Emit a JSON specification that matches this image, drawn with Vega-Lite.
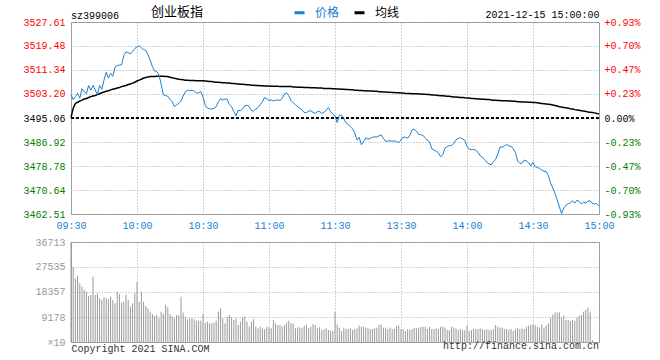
{
"$schema":"https://vega.github.io/schema/vega-lite/v6.json",
"background":"white",
"padding":{"left":22,"top":6,"right":5,"bottom":2},
"config":{
"view":{"stroke":"#999999","strokeWidth":1},
"axis":{"labelFont":"Liberation Mono","labelFontSize":10,"titleFont":"Liberation Mono","titleFontSize":10,"titleFontWeight":"normal","ticks":false,"domain":false,"gridColor":"#a8a8a8","gridDash":[1,2],"gridOpacity":1,"labelAngle":0}
},
"data":{"values":[
{"t":"09:30","p":3503.0,"a":3495.2,"v":36713},
{"t":"09:31","p":3501.3,"a":3498.4,"v":27420},
{"t":"09:32","p":3502.3,"a":3500.0,"v":23380},
{"t":"09:33","p":3503.4,"a":3500.4,"v":24240},
{"t":"09:34","p":3501.8,"a":3500.8,"v":21540},
{"t":"09:35","p":3505.0,"a":3501.1,"v":20320},
{"t":"09:36","p":3504.0,"a":3501.5,"v":19090},
{"t":"09:37","p":3503.3,"a":3501.7,"v":18480},
{"t":"09:38","p":3506.1,"a":3502.0,"v":16890},
{"t":"09:39","p":3504.5,"a":3502.3,"v":17260},
{"t":"09:40","p":3506.1,"a":3502.5,"v":23990},
{"t":"09:41","p":3504.6,"a":3502.7,"v":17260},
{"t":"09:42","p":3503.0,"a":3503.0,"v":17870},
{"t":"09:43","p":3506.1,"a":3503.3,"v":16030},
{"t":"09:44","p":3504.8,"a":3503.6,"v":15420},
{"t":"09:45","p":3507.9,"a":3503.9,"v":16400},
{"t":"09:46","p":3510.6,"a":3504.1,"v":16030},
{"t":"09:47","p":3508.6,"a":3504.3,"v":15670},
{"t":"09:48","p":3510.2,"a":3504.6,"v":16650},
{"t":"09:49","p":3509.2,"a":3504.8,"v":15420},
{"t":"09:50","p":3512.3,"a":3505.0,"v":14200},
{"t":"09:51","p":3512.8,"a":3505.2,"v":18480},
{"t":"09:52","p":3513.0,"a":3505.4,"v":17630},
{"t":"09:53","p":3513.1,"a":3505.7,"v":14440},
{"t":"09:54","p":3516.2,"a":3505.9,"v":14810},
{"t":"09:55","p":3517.5,"a":3506.1,"v":17260},
{"t":"09:56","p":3517.2,"a":3506.4,"v":15420},
{"t":"09:57","p":3516.8,"a":3506.6,"v":12970},
{"t":"09:58","p":3517.6,"a":3506.9,"v":14200},
{"t":"09:59","p":3518.6,"a":3507.2,"v":17870},
{"t":"10:00","p":3519.2,"a":3507.6,"v":22150},
{"t":"10:01","p":3519.5,"a":3507.9,"v":14810},
{"t":"10:02","p":3518.8,"a":3508.2,"v":18480},
{"t":"10:03","p":3518.3,"a":3508.6,"v":14810},
{"t":"10:04","p":3518.0,"a":3508.8,"v":13220},
{"t":"10:05","p":3516.4,"a":3509.0,"v":12360},
{"t":"10:06","p":3514.7,"a":3509.1,"v":11140},
{"t":"10:07","p":3512.5,"a":3509.1,"v":10280},
{"t":"10:08","p":3511.0,"a":3509.1,"v":9550},
{"t":"10:09","p":3510.8,"a":3509.2,"v":9910},
{"t":"10:10","p":3509.6,"a":3509.2,"v":8690},
{"t":"10:11","p":3506.5,"a":3509.2,"v":11140},
{"t":"10:12","p":3502.9,"a":3509.2,"v":10280},
{"t":"10:13","p":3502.7,"a":3509.1,"v":13590},
{"t":"10:14","p":3502.4,"a":3509.1,"v":12730},
{"t":"10:15","p":3501.4,"a":3508.9,"v":10280},
{"t":"10:16","p":3500.6,"a":3508.7,"v":9300},
{"t":"10:17","p":3499.0,"a":3508.5,"v":8690},
{"t":"10:18","p":3499.4,"a":3508.4,"v":9910},
{"t":"10:19","p":3500.0,"a":3508.2,"v":9910},
{"t":"10:20","p":3500.8,"a":3508.1,"v":16650},
{"t":"10:21","p":3502.5,"a":3508.0,"v":10770},
{"t":"10:22","p":3504.0,"a":3507.9,"v":9300},
{"t":"10:23","p":3504.5,"a":3507.9,"v":8320},
{"t":"10:24","p":3504.4,"a":3507.8,"v":8690},
{"t":"10:25","p":3504.5,"a":3507.8,"v":8690},
{"t":"10:26","p":3504.2,"a":3507.8,"v":8320},
{"t":"10:27","p":3503.5,"a":3507.7,"v":7830},
{"t":"10:28","p":3503.6,"a":3507.7,"v":7830},
{"t":"10:29","p":3504.0,"a":3507.7,"v":7830},
{"t":"10:30","p":3502.2,"a":3507.7,"v":10280},
{"t":"10:31","p":3499.5,"a":3507.6,"v":7100},
{"t":"10:32","p":3498.4,"a":3507.5,"v":7470},
{"t":"10:33","p":3498.2,"a":3507.4,"v":6850},
{"t":"10:34","p":3498.1,"a":3507.4,"v":6850},
{"t":"10:35","p":3498.3,"a":3507.3,"v":7100},
{"t":"10:36","p":3498.9,"a":3507.2,"v":7830},
{"t":"10:37","p":3500.6,"a":3507.2,"v":11140},
{"t":"10:38","p":3501.6,"a":3507.1,"v":12360},
{"t":"10:39","p":3501.2,"a":3507.0,"v":8690},
{"t":"10:40","p":3501.5,"a":3507.0,"v":6850},
{"t":"10:41","p":3501.4,"a":3506.9,"v":9060},
{"t":"10:42","p":3499.6,"a":3506.9,"v":9910},
{"t":"10:43","p":3498.9,"a":3506.8,"v":9060},
{"t":"10:44","p":3497.3,"a":3506.8,"v":8080},
{"t":"10:45","p":3495.8,"a":3506.7,"v":8690},
{"t":"10:46","p":3497.7,"a":3506.6,"v":6240},
{"t":"10:47","p":3497.5,"a":3506.5,"v":7470},
{"t":"10:48","p":3498.1,"a":3506.5,"v":9060},
{"t":"10:49","p":3499.2,"a":3506.4,"v":9300},
{"t":"10:50","p":3499.4,"a":3506.3,"v":7470},
{"t":"10:51","p":3498.9,"a":3506.3,"v":5630},
{"t":"10:52","p":3497.6,"a":3506.2,"v":7470},
{"t":"10:53","p":3497.4,"a":3506.2,"v":8320},
{"t":"10:54","p":3498.1,"a":3506.1,"v":5630},
{"t":"10:55","p":3498.6,"a":3506.1,"v":5020},
{"t":"10:56","p":3499.6,"a":3506.0,"v":5630},
{"t":"10:57","p":3500.6,"a":3506.0,"v":5020},
{"t":"10:58","p":3502.0,"a":3505.9,"v":4650},
{"t":"10:59","p":3501.6,"a":3505.9,"v":5630},
{"t":"11:00","p":3501.0,"a":3505.9,"v":5390},
{"t":"11:01","p":3501.2,"a":3505.8,"v":5020},
{"t":"11:02","p":3500.9,"a":3505.8,"v":8080},
{"t":"11:03","p":3501.1,"a":3505.8,"v":6850},
{"t":"11:04","p":3501.2,"a":3505.8,"v":6240},
{"t":"11:05","p":3501.0,"a":3505.7,"v":6240},
{"t":"11:06","p":3501.7,"a":3505.7,"v":5630},
{"t":"11:07","p":3503.2,"a":3505.7,"v":6240},
{"t":"11:08","p":3503.6,"a":3505.7,"v":7100},
{"t":"11:09","p":3502.6,"a":3505.7,"v":7830},
{"t":"11:10","p":3501.0,"a":3505.7,"v":6850},
{"t":"11:11","p":3500.2,"a":3505.6,"v":6850},
{"t":"11:12","p":3499.6,"a":3505.6,"v":5020},
{"t":"11:13","p":3498.9,"a":3505.5,"v":5390},
{"t":"11:14","p":3498.4,"a":3505.5,"v":5390},
{"t":"11:15","p":3497.8,"a":3505.5,"v":5020},
{"t":"11:16","p":3496.9,"a":3505.4,"v":5880},
{"t":"11:17","p":3496.9,"a":3505.4,"v":6240},
{"t":"11:18","p":3497.4,"a":3505.4,"v":5020},
{"t":"11:19","p":3497.5,"a":3505.3,"v":5630},
{"t":"11:20","p":3497.0,"a":3505.3,"v":6610},
{"t":"11:21","p":3496.6,"a":3505.3,"v":6240},
{"t":"11:22","p":3497.2,"a":3505.2,"v":5020},
{"t":"11:23","p":3497.3,"a":3505.2,"v":5390},
{"t":"11:24","p":3496.6,"a":3505.2,"v":4410},
{"t":"11:25","p":3496.9,"a":3505.1,"v":4650},
{"t":"11:26","p":3497.8,"a":3505.1,"v":5020},
{"t":"11:27","p":3498.6,"a":3505.1,"v":4410},
{"t":"11:28","p":3497.2,"a":3505.1,"v":4160},
{"t":"11:29","p":3496.4,"a":3505.0,"v":4160},
{"t":"11:30","p":3495.8,"a":3505.0,"v":11100},
{"t":"13:01","p":3493.5,"a":3504.9,"v":6470},
{"t":"13:02","p":3496.0,"a":3504.9,"v":5250},
{"t":"13:03","p":3496.0,"a":3504.8,"v":4030},
{"t":"13:04","p":3494.8,"a":3504.8,"v":5250},
{"t":"13:05","p":3493.4,"a":3504.7,"v":4760},
{"t":"13:06","p":3492.9,"a":3504.7,"v":4760},
{"t":"13:07","p":3492.1,"a":3504.6,"v":5010},
{"t":"13:08","p":3491.4,"a":3504.6,"v":4390},
{"t":"13:09","p":3490.0,"a":3504.5,"v":4760},
{"t":"13:10","p":3487.6,"a":3504.5,"v":5010},
{"t":"13:11","p":3488.5,"a":3504.4,"v":5990},
{"t":"13:12","p":3486.0,"a":3504.4,"v":5620},
{"t":"13:13","p":3487.0,"a":3504.3,"v":5620},
{"t":"13:14","p":3488.4,"a":3504.3,"v":5250},
{"t":"13:15","p":3487.8,"a":3504.2,"v":5010},
{"t":"13:16","p":3488.2,"a":3504.2,"v":4760},
{"t":"13:17","p":3488.5,"a":3504.2,"v":4760},
{"t":"13:18","p":3488.7,"a":3504.1,"v":5010},
{"t":"13:19","p":3488.6,"a":3504.1,"v":5250},
{"t":"13:20","p":3489.0,"a":3504.0,"v":6230},
{"t":"13:21","p":3489.3,"a":3504.0,"v":6470},
{"t":"13:22","p":3488.2,"a":3503.9,"v":5250},
{"t":"13:23","p":3487.1,"a":3503.9,"v":5250},
{"t":"13:24","p":3487.3,"a":3503.8,"v":4760},
{"t":"13:25","p":3487.3,"a":3503.8,"v":5250},
{"t":"13:26","p":3487.2,"a":3503.7,"v":4760},
{"t":"13:27","p":3487.3,"a":3503.7,"v":4760},
{"t":"13:28","p":3487.1,"a":3503.6,"v":5990},
{"t":"13:29","p":3486.7,"a":3503.6,"v":5990},
{"t":"13:30","p":3487.6,"a":3503.5,"v":4760},
{"t":"13:31","p":3488.6,"a":3503.5,"v":4760},
{"t":"13:32","p":3488.5,"a":3503.4,"v":4030},
{"t":"13:33","p":3488.2,"a":3503.4,"v":4760},
{"t":"13:34","p":3489.2,"a":3503.4,"v":4390},
{"t":"13:35","p":3491.0,"a":3503.3,"v":4760},
{"t":"13:36","p":3491.3,"a":3503.3,"v":5250},
{"t":"13:37","p":3490.6,"a":3503.3,"v":5010},
{"t":"13:38","p":3489.5,"a":3503.2,"v":5250},
{"t":"13:39","p":3489.4,"a":3503.2,"v":5500},
{"t":"13:40","p":3489.1,"a":3503.1,"v":5620},
{"t":"13:41","p":3488.4,"a":3503.1,"v":5620},
{"t":"13:42","p":3487.5,"a":3503.0,"v":4760},
{"t":"13:43","p":3487.0,"a":3503.0,"v":5620},
{"t":"13:44","p":3484.6,"a":3502.9,"v":4760},
{"t":"13:45","p":3484.2,"a":3502.9,"v":4760},
{"t":"13:46","p":3483.8,"a":3502.8,"v":5010},
{"t":"13:47","p":3483.2,"a":3502.7,"v":4760},
{"t":"13:48","p":3481.9,"a":3502.6,"v":5620},
{"t":"13:49","p":3482.7,"a":3502.6,"v":5620},
{"t":"13:50","p":3484.9,"a":3502.5,"v":5250},
{"t":"13:51","p":3485.4,"a":3502.4,"v":4390},
{"t":"13:52","p":3485.7,"a":3502.4,"v":4390},
{"t":"13:53","p":3485.7,"a":3502.3,"v":5620},
{"t":"13:54","p":3486.5,"a":3502.2,"v":5250},
{"t":"13:55","p":3487.6,"a":3502.2,"v":5010},
{"t":"13:56","p":3488.1,"a":3502.1,"v":4390},
{"t":"13:57","p":3488.4,"a":3502.0,"v":4760},
{"t":"13:58","p":3487.9,"a":3502.0,"v":4390},
{"t":"13:59","p":3487.5,"a":3501.9,"v":4390},
{"t":"14:00","p":3485.5,"a":3501.8,"v":5990},
{"t":"14:01","p":3484.5,"a":3501.8,"v":4030},
{"t":"14:02","p":3484.3,"a":3501.7,"v":4390},
{"t":"14:03","p":3484.4,"a":3501.7,"v":4760},
{"t":"14:04","p":3484.1,"a":3501.6,"v":4760},
{"t":"14:05","p":3483.4,"a":3501.5,"v":4760},
{"t":"14:06","p":3482.2,"a":3501.5,"v":5010},
{"t":"14:07","p":3481.7,"a":3501.4,"v":4760},
{"t":"14:08","p":3481.0,"a":3501.4,"v":4390},
{"t":"14:09","p":3480.0,"a":3501.3,"v":4760},
{"t":"14:10","p":3479.5,"a":3501.3,"v":4390},
{"t":"14:11","p":3479.2,"a":3501.2,"v":4390},
{"t":"14:12","p":3480.2,"a":3501.1,"v":4760},
{"t":"14:13","p":3481.0,"a":3501.1,"v":6230},
{"t":"14:14","p":3482.8,"a":3501.0,"v":5620},
{"t":"14:15","p":3485.2,"a":3501.0,"v":5250},
{"t":"14:16","p":3485.2,"a":3500.9,"v":5250},
{"t":"14:17","p":3485.6,"a":3500.9,"v":4760},
{"t":"14:18","p":3486.1,"a":3500.9,"v":4760},
{"t":"14:19","p":3485.6,"a":3500.8,"v":4390},
{"t":"14:20","p":3485.5,"a":3500.8,"v":4760},
{"t":"14:21","p":3484.6,"a":3500.7,"v":4030},
{"t":"14:22","p":3483.4,"a":3500.7,"v":4760},
{"t":"14:23","p":3480.5,"a":3500.6,"v":5250},
{"t":"14:24","p":3479.7,"a":3500.6,"v":4760},
{"t":"14:25","p":3479.7,"a":3500.5,"v":5010},
{"t":"14:26","p":3480.8,"a":3500.5,"v":4760},
{"t":"14:27","p":3480.5,"a":3500.5,"v":5620},
{"t":"14:28","p":3479.9,"a":3500.4,"v":5990},
{"t":"14:29","p":3478.8,"a":3500.4,"v":6230},
{"t":"14:30","p":3480.0,"a":3500.3,"v":6470},
{"t":"14:31","p":3478.6,"a":3500.3,"v":6230},
{"t":"14:32","p":3478.3,"a":3500.2,"v":5620},
{"t":"14:33","p":3478.0,"a":3500.1,"v":5250},
{"t":"14:34","p":3477.4,"a":3500.0,"v":6470},
{"t":"14:35","p":3477.0,"a":3499.9,"v":5250},
{"t":"14:36","p":3476.9,"a":3499.8,"v":5990},
{"t":"14:37","p":3475.5,"a":3499.7,"v":6840},
{"t":"14:38","p":3473.0,"a":3499.6,"v":8920},
{"t":"14:39","p":3471.3,"a":3499.5,"v":10150},
{"t":"14:40","p":3469.5,"a":3499.3,"v":10880},
{"t":"14:41","p":3467.3,"a":3499.1,"v":10880},
{"t":"14:42","p":3464.9,"a":3498.9,"v":10880},
{"t":"14:43","p":3462.7,"a":3498.8,"v":8920},
{"t":"14:44","p":3464.5,"a":3498.6,"v":9660},
{"t":"14:45","p":3465.5,"a":3498.5,"v":8070},
{"t":"14:46","p":3466.0,"a":3498.4,"v":8070},
{"t":"14:47","p":3466.3,"a":3498.2,"v":7700},
{"t":"14:48","p":3467.0,"a":3498.1,"v":8070},
{"t":"14:49","p":3466.2,"a":3497.9,"v":7700},
{"t":"14:50","p":3467.2,"a":3497.8,"v":8920},
{"t":"14:51","p":3466.8,"a":3497.7,"v":9660},
{"t":"14:52","p":3465.9,"a":3497.5,"v":9900},
{"t":"14:53","p":3466.5,"a":3497.4,"v":11130},
{"t":"14:54","p":3466.2,"a":3497.3,"v":11740},
{"t":"14:55","p":3466.9,"a":3497.1,"v":12600},
{"t":"14:56","p":3467.0,"a":3497.0,"v":10880},
{"t":"14:57","p":3466.1,"a":3496.9,"v":720},
{"t":"14:58","p":3465.9,"a":3496.8,"v":0},
{"t":"14:59","p":3466.1,"a":3496.6,"v":0},
{"t":"15:00","p":3465.2,"a":3496.5,"v":0}
]},
"spacing":28,
"bounds":"flush",
"vconcat":[
{
"width":528,"height":192,
"title":{"text":"sz399006","anchor":"start","frame":"group","font":"Liberation Mono","fontSize":10,"fontWeight":"normal","color":"#000000","offset":-12},
"layer":[
{"mark":{"type":"rule","color":"#000000","strokeWidth":1,"strokeDash":[3,2]},
 "encoding":{"y":{"datum":3495.06,"type":"quantitative","axis":null}}},
{"mark":{"type":"line","strokeWidth":1.5},
 "encoding":{
  "x":{"field":"t","type":"ordinal","sort":null,"scale":{"type":"point","padding":0},
   "axis":{"orient":"top","labels":false,"grid":false,"title":"2021-12-15 15:00:00","titleAnchor":"end","titlePadding":3,"titleColor":"#000000"}},
  "y":{"field":"a","type":"quantitative",
   "axis":{"orient":"right","values":[3462.51,3470.64,3478.78,3486.92,3495.06,3503.20,3511.34,3519.48,3527.61],"grid":false,"labelPadding":5,"title":null,
    "labelExpr":"(datum.value > 3495.1 ? '+' : (datum.value < 3495 ? '-' : '')) + format(abs(datum.value - 3495.06) / 3495.06 * 100, '.2f') + '%'",
    "labelColor":{"condition":[{"test":"datum.value > 3495.1","value":"#ff0000"},{"test":"datum.value > 3495","value":"#000000"}],"value":"#008000"}}},
  "color":{"datum":"均线"}
 }},
{"mark":{"type":"line","strokeWidth":1},
 "encoding":{
  "x":{"field":"t","type":"ordinal","sort":null,"scale":{"type":"point","padding":0},
   "axis":{"orient":"bottom","values":["09:30","10:00","10:30","11:00","11:30","13:30","14:00","14:30","15:00"],"grid":true,"labelColor":"#1a80d0","labelPadding":6,"title":null}},
  "y":{"field":"p","type":"quantitative","scale":{"domain":[3462.51,3527.61],"nice":false,"zero":false},
   "axis":{"orient":"left","values":[3462.51,3470.64,3478.78,3486.92,3495.06,3503.20,3511.34,3519.48,3527.61],"format":".2f","grid":true,"labelPadding":6,"title":null,
    "labelColor":{"condition":[{"test":"datum.value > 3495.1","value":"#ff0000"},{"test":"datum.value > 3495","value":"#000000"}],"value":"#008000"}}},
  "color":{"datum":"价格","scale":{"domain":["价格","均线"],"range":["#1a80d0","#000000"]},
   "legend":{"orient":"none","legendX":80,"legendY":-16,"direction":"horizontal","title":"创业板指","titleOrient":"left","titleFont":"Noto Sans CJK SC","titleFontSize":13,"titleFontWeight":"normal","titleColor":"#000000","titlePadding":89,
    "labelFont":"Noto Sans CJK SC","labelFontSize":12,"labelOffset":9,"columnPadding":8,"symbolType":"stroke","symbolSize":100,"symbolStrokeWidth":3,
    "encode":{"labels":{"update":{"fill":{"signal":"datum.label === '价格' ? '#1a80d0' : '#000000'"}}}}}}
 }}
],
"resolve":{"axis":{"x":"independent","y":"independent"}}
},
{
"width":528,"height":100,
"title":{"text":"http://finance.sina.com.cn","orient":"bottom","anchor":"end","frame":"group","font":"Liberation Mono","fontSize":10,"fontWeight":"normal","color":"#333333","offset":-12},
"mark":{"type":"rule","color":"#999999","strokeWidth":1},
"encoding":{
 "x":{"field":"t","type":"ordinal","sort":null,"scale":{"type":"point","padding":0},
  "axis":{"values":["09:30","10:00","10:30","11:00","11:30","13:30","14:00","14:30","15:00"],"grid":true,"labels":false,"title":"Copyright 2021 SINA.COM","titleAnchor":"start","titlePadding":1,"titleColor":"#333333"}},
 "y":{"field":"v","type":"quantitative","scale":{"domain":[0,36713],"nice":false},
  "axis":{"values":[0,9178,18357,27535,36713],"grid":true,"labelColor":"#999999","labelPadding":6,"title":null,"format":"d","labelExpr":"datum.value == 0 ? '×10' : datum.label"}},
 "y2":{"datum":0}
}
}
]
}
